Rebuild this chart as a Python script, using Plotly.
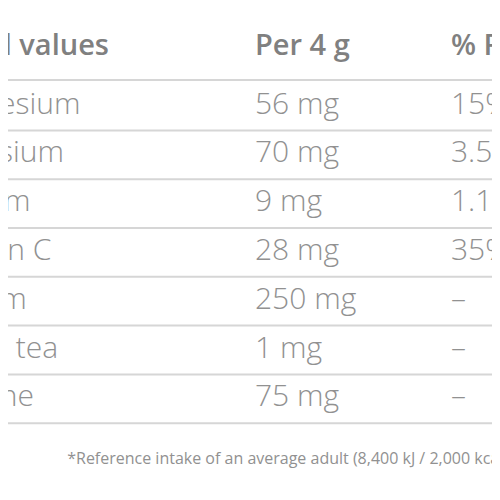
import plotly.graph_objects as go

headers = ['Nutritional values', 'Per 4 g', '% RI*']
nutrients = ['Magnesium', 'Potassium', 'Calcium', 'Vitamin C', 'Sodium', 'Green tea', 'Caffeine']
per_4g = ['56 mg', '70 mg', '9 mg', '28 mg', '250 mg', '1 mg', '75 mg']
ri_pct = ['15%', '3.5%', '1.1%', '35%', '–', '–', '–']
footnote = '*Reference intake of an average adult (8,400 kJ / 2,000 kcal)'

# layout in pixel coordinates
FONT = 'Open Sans'
GREY = '#919191'
HEAD_Y = 40
ROW0_Y = 98
ROW_H = 48.8
COL_X = [-84, 247, 443]
HEAD_X = [-150, 247, 443]

row_y = [ROW0_Y + i * ROW_H for i in range(len(nutrients))]
line_y = [72] + [y + ROW_H / 2 for y in row_y]

fig = go.Figure()

# separator lines
lx, ly = [], []
for y in line_y:
    lx += [0, 500, None]
    ly += [y, y, None]
fig.add_trace(go.Scatter(x=lx, y=ly, mode='lines',
                         line=dict(color='#d6d6d6', width=2), hoverinfo='skip'))

# header
fig.add_trace(go.Scatter(
    x=HEAD_X, y=[HEAD_Y] * 3, mode='text', text=headers,
    textposition='middle right',
    textfont=dict(family=FONT, size=29, color='#808080', weight=600)))

# body columns
for col, vals in enumerate([nutrients, per_4g, ri_pct]):
    fig.add_trace(go.Scatter(
        x=[COL_X[col]] * len(vals), y=row_y, mode='text', text=vals,
        textposition='middle right',
        textfont=dict(family=FONT, size=30, color=GREY, weight=300)))

# footnote
fig.add_trace(go.Scatter(
    x=[500], y=[452], mode='text', text=[footnote],
    textposition='middle left',
    textfont=dict(family=FONT, size=16, color=GREY)))

fig.update_layout(
    width=500, height=500,
    margin=dict(l=0, r=0, t=0, b=0),
    paper_bgcolor='white', plot_bgcolor='white',
    showlegend=False,
    xaxis=dict(range=[0, 500], visible=False, fixedrange=True),
    yaxis=dict(range=[500, 0], visible=False, fixedrange=True),
)

fig.write_html("out.html")
